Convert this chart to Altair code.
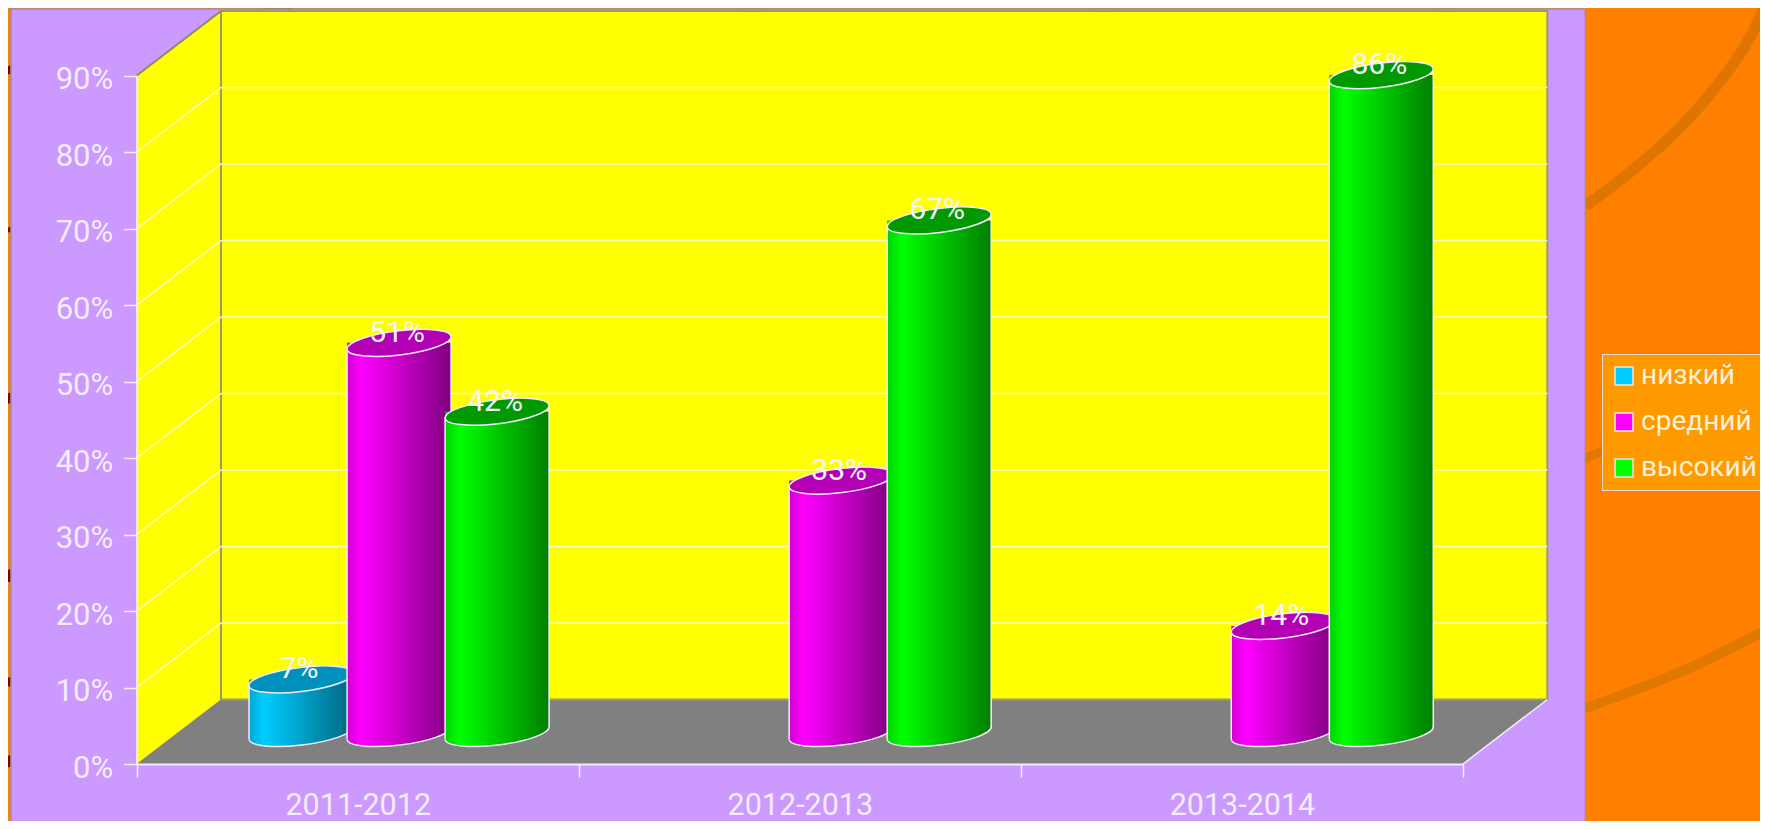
import altair as alt
import pandas as pd

categories = ["2011-2012", "2012-2013", "2013-2014"]
series = ["низкий", "средний", "высокий"]
low = [7, 0, 0]
mid = [51, 33, 14]
high = [42, 67, 86]
y_ticks = list(range(0, 100, 10))
x_values = [0, 0.5, 1, 1.5, 2, 2.5, 3]
legend_colors = ["#00CCFF", "#FF00FF", "#00FF00"]
top_colors = ["#0090BC", "#B400B4", "#009A00"]
bright = [(0, 204, 255), (255, 0, 255), (0, 255, 0)]

FONT = "Roboto"
TXT = "#F4ECFF"
LINE = "#F4ECFF"


def px(v):  # page x -> chart x unit
    return (v - 136.7) / 442


def py(v):  # page y -> chart y unit
    return (764 - v) / 7.65


DX = px(221)
DY = py(699.5)
BAR = 104
BASE = py(733)
TILT = 6 / 7.65
CENTER = px(399)
GAP = 98 / 442
offsets = [-GAP, 0, GAP]

xs = alt.Scale(domain=[0, 3], range=[128.7, 1455], nice=False, zero=False, padding=0)
ys = alt.Scale(domain=[0, 90], range=[756, 67.5], nice=False, zero=False, padding=0)

cats_js = "[" + ",".join(f"'{c}'" for c in categories) + "]"
x_axis = alt.Axis(
    title=None, orient="bottom", offset=-57, values=x_values, grid=False, zindex=1,
    domainColor=LINE, domainWidth=2, tickColor=LINE, tickWidth=1.5, tickSize=13,
    tickOpacity={"condition": {"test": "datum.value % 1 == 0", "value": 1}, "value": 0},
    labelExpr=f"datum.value % 1 == 0 ? '' : {cats_js}[floor(datum.value)]",
    labelFont=FONT, labelFontSize=30.5, labelColor=TXT, labelOverlap=False, labelBound=False,
    labelFlush=False, labelPadding=13.5,
)
y_axis = alt.Axis(
    title=None, orient="left", offset=-128.7, values=y_ticks, grid=False, zindex=1,
    domainColor=LINE, domainWidth=2, tickColor=LINE, tickWidth=1.5, tickSize=13,
    labelExpr="datum.value + '%'", labelFont=FONT, labelFontSize=31, labelColor=TXT,
    labelPadding=11, labelOverlap=False, labelBound=False, labelFlush=False, labelOffset=4,
)


def X(f):
    return alt.X(f, type="quantitative", scale=xs, axis=x_axis)


def Y(f):
    return alt.Y(f, type="quantitative", scale=ys, axis=y_axis)


rows = []
for si, (s, vals) in enumerate(zip(series, [low, mid, high])):
    for ci, (c, v) in enumerate(zip(categories, vals)):
        if v > 0:
            rows.append(dict(cat=c, series=s, value=v, label=f"{v}%",
                             cx=ci + CENTER + offsets[si], top=v + BASE, base=BASE))
bars = pd.DataFrame(rows)
bars["top_l"] = bars["top"] - TILT
bars["top_r"] = bars["top"] + TILT
bars["base_l"] = bars["base"] - TILT
bars["base_r"] = bars["base"] + TILT

# background decoration
curves = {
    "a": ([(1585, 206), (1630, 172), (1680, 127), (1713, 90), (1747, 42), (1770, -5)], "#E07400", 11),
    "c": ([(1585, 708), (1680, 672), (1770, 628)], "#E07800", 10),
    "b": ([(1585, 458), (1605, 450)], "#E07800", 9),
    "l1": ([(0, 73), (12, 69)], "#800000", 8),
    "l2": ([(0, 232), (12, 229)], "#800000", 5),
    "l3": ([(0, 402), (12, 397)], "#800000", 10),
    "l4": ([(0, 578), (12, 575)], "#800000", 12),
    "l5": ([(0, 682), (12, 682)], "#800000", 9),
    "l6": ([(0, 765), (12, 760)], "#800000", 11),
    "t1": ([(265, 12), (300, -2)], "#B84000", 14),
    "t2": ([(742, 12), (770, -2)], "#E07800", 12),
    "t3": ([(1095, 12), (1120, -2)], "#E07800", 12),
    "t4": ([(1440, 12), (1462, -2)], "#E07800", 12),
}
stripe_layers = []
for k, (pts, col, w) in curves.items():
    d = pd.DataFrame({"x": [px(p[0]) for p in pts], "y": [py(p[1]) for p in pts]})
    stripe_layers.append(
        alt.Chart(d).mark_line(color=col, strokeWidth=w, clip=False, interpolate="monotone").encode(
            x=X("x"), y=Y("y"), order="x:Q"
        )
    )

panel = alt.Chart(pd.DataFrame({"x": [px(11)], "x2": [px(1585)], "y": [py(9)], "y2": [py(830)]})).mark_rect(
    color="#CC99FF", stroke="#A88A9A", strokeWidth=1.5
).encode(x=X("x"), x2="x2", y=Y("y"), y2="y2")

side = alt.Chart(pd.DataFrame({"x": [0, DX], "y": [0, DY], "y2": [90, 90 + DY]})).mark_area(
    color="#FFFF00", line=False
).encode(x=X("x"), y=Y("y"), y2="y2")

floor = alt.Chart(pd.DataFrame({"x": [0, DX, 3, 3 + DX], "y": [0, DY, DY, DY], "y2": [0, 0, 0, DY]})).mark_area(
    color="#808080", line=False
).encode(x=X("x"), y=Y("y"), y2="y2")

back = alt.Chart(pd.DataFrame({"x": [DX], "x2": [3 + DX], "y": [DY], "y2": [90 + DY]})).mark_rect(
    color="#FFFF00", stroke="#9A9A70", strokeWidth=2
).encode(x=X("x"), x2="x2", y=Y("y"), y2="y2")

edge = alt.Chart(pd.DataFrame({"x": [0], "x2": [DX], "y": [90], "y2": [90 + DY]})).mark_rule(
    color="#8A8A6A", strokeWidth=2
).encode(x=X("x"), x2="x2", y=Y("y"), y2="y2")

floor_right = alt.Chart(pd.DataFrame({"x": [3], "x2": [3 + DX], "y": [0], "y2": [DY]})).mark_rule(
    color=LINE, strokeWidth=1.5
).encode(x=X("x"), x2="x2", y=Y("y"), y2="y2")

levels = pd.DataFrame({"lvl": list(range(10, 90, 10))})
levels["x0"] = 0.0
levels["x1"] = DX
levels["x2"] = 3 + DX
levels["b"] = levels["lvl"] + DY
back_grid = alt.Chart(levels).mark_rule(color="#FFFFC8", strokeWidth=1.5).encode(
    x=X("x1"), x2="x2", y=Y("b")
)
side_grid = alt.Chart(levels).mark_rule(color="#FFFFC8", strokeWidth=1.5).encode(
    x=X("x0"), x2="x1", y=Y("lvl"), y2="b"
)

ELLIPSE = "M-1,0.12 A1,0.23 -7 1 1 1,-0.12 A1,0.23 -7 1 1 -1,0.12 Z"
LOWER_ARC = "M-1,0.12 A1,0.23 -7 0 0 1,-0.12"
BOTTOM_CAP = "M-1,0.12 A1,0.23 -7 0 0 1,-0.12 L1,-0.4 L-1,-0.4 Z"


def shade(c, f):
    return "#%02X%02X%02X" % tuple(int(v * f) for v in c)


bar_layers = []
for si, s in enumerate(series):
    d = bars[bars.series == s]
    c = bright[si]
    grad = alt.Gradient(
        gradient="linear", x1=0, x2=1, y1=0, y2=0,
        stops=[
            alt.GradientStop(color=shade(c, 0.82), offset=0),
            alt.GradientStop(color=shade(c, 1.0), offset=0.14),
            alt.GradientStop(color=shade(c, 0.5), offset=1),
        ],
    )
    ch = alt.Chart(d)
    bar_layers += [
        ch.mark_point(shape=BOTTOM_CAP, size=BAR ** 2, filled=True, color=grad, strokeWidth=0, opacity=1).encode(
            x=X("cx"), y=Y("base")
        ),
        ch.mark_bar(width=BAR, orient="vertical", color=grad).encode(x=X("cx"), y=Y("top"), y2="base_r"),
        ch.mark_point(shape=LOWER_ARC, size=BAR ** 2, filled=False, stroke=LINE, strokeWidth=1.5, opacity=1).encode(
            x=X("cx"), y=Y("base")
        ),
        ch.mark_rule(color=LINE, strokeWidth=1.5, xOffset=-BAR / 2).encode(x=X("cx"), y=Y("top_l"), y2="base_l"),
        ch.mark_rule(color=LINE, strokeWidth=1.5, xOffset=BAR / 2).encode(x=X("cx"), y=Y("top_r"), y2="base_r"),
        ch.mark_point(shape=ELLIPSE, size=BAR ** 2, filled=True, fill=top_colors[si], stroke=LINE, strokeWidth=1.5, opacity=1).encode(
            x=X("cx"), y=Y("top")
        ),
    ]

labels = alt.Chart(bars).mark_text(
    font=FONT, fontSize=30, color="#F8F4FF", baseline="middle", align="center", dy=-10, dx=-2
).encode(x=X("cx"), y=Y("top"), text="label:N")

legend_layer = alt.Chart(bars).mark_square(size=0, opacity=1).encode(
    x=X("cx"),
    y=Y("top"),
    color=alt.Color(
        "series:N",
        scale=alt.Scale(domain=series, range=legend_colors),
        legend=alt.Legend(
            title=None, orient="none", legendX=1594, legendY=346, padding=8,
            fillColor="#FF9900", strokeColor="#EEDCC8",
            symbolType="square", symbolSize=324, symbolOpacity=1,
            symbolStrokeColor="#F4E6DC", symbolStrokeWidth=1.5,
            labelFont=FONT, labelFontSize=28, labelColor="#FFF0D8", labelOffset=3,
            rowPadding=18, labelLimit=300, symbolOffset=0,
        ),
    ),
)

chart = alt.layer(
    *stripe_layers, panel, side, floor, back, edge, back_grid, side_grid, floor_right,
    *bar_layers, labels, legend_layer
).properties(
    width=1752, height=813, padding=0, background="#FF8000",
    autosize=alt.AutoSizeParams(type="none"),
).configure_view(stroke=None)

chart.save("out.html", embed_options={"renderer": "svg", "actions": False})
